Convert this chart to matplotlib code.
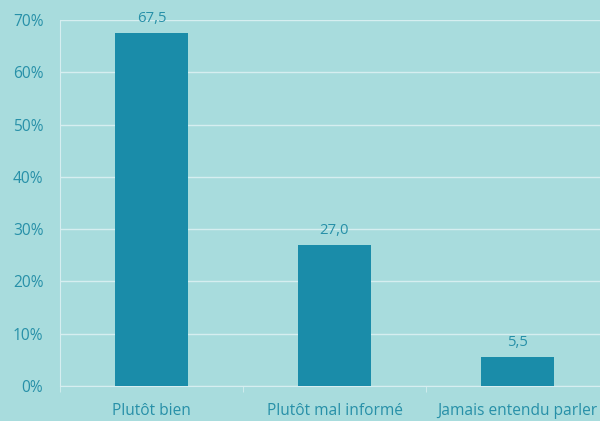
import matplotlib.pyplot as plt

categories = ['Plutôt bien', 'Plutôt mal informé', 'Jamais entendu parler']
values = [67.5, 27.0, 5.5]
value_labels = ['67,5', '27,0', '5,5']
yticks = [0, 10, 20, 30, 40, 50, 60, 70]

bg = '#a8dcdd'
bar_col = '#1a8ca9'
txt_col = '#2790a8'
grid_col = '#d6eef0'

plt.rcParams['font.family'] = ['Open Sans', 'DejaVu Sans']

fig = plt.figure(figsize=(6, 4.21), dpi=100, facecolor=bg)
ax = fig.add_axes([60 / 600, 1 - 386 / 421, 549 / 600, 366 / 421])
ax.set_facecolor(bg)

x = range(len(categories))
ax.bar(x, values, width=0.4, color=bar_col, zorder=3)
for i, v in enumerate(values):
    ax.text(i, v + 1.4, value_labels[i], ha='center', va='bottom',
            color=txt_col, fontsize=10.7)

ax.set_xlim(-0.5, 2.5)
ax.set_ylim(0, 70)
ax.set_yticks(yticks)
ax.set_yticklabels([f'{t}%' for t in yticks], color=txt_col, fontsize=11.2)
ax.yaxis.grid(True, color=grid_col, linewidth=1, zorder=0)
ax.tick_params(axis='y', length=0, pad=12)

ax.set_xticks([0, 1, 2])
ax.set_xticklabels(categories, color=txt_col, fontsize=11.2)
ax.tick_params(axis='x', length=0, pad=12)
# small separators between categories
ax.set_xticks([-0.5, 0.5, 1.5], minor=True)
ax.tick_params(axis='x', which='minor', length=4, color=grid_col)

for s in ['top', 'right']:
    ax.spines[s].set_visible(False)
ax.spines['left'].set_color(grid_col)
ax.spines['bottom'].set_color(grid_col)

fig.savefig('out.png', dpi=100, facecolor=bg)
